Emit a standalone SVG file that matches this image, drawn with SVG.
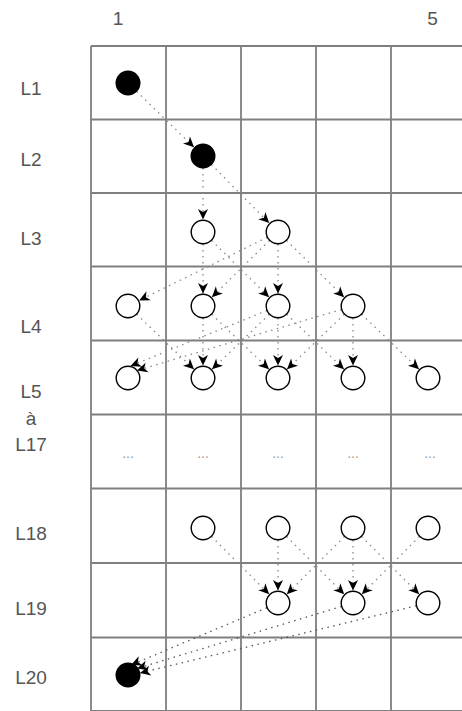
<svg xmlns="http://www.w3.org/2000/svg" width="462" height="711" viewBox="0 0 462 711">
<style>
.g{stroke:#7f7f7f;stroke-width:1.8;fill:none}
.t{font-family:"Liberation Sans",Arial,sans-serif;font-size:19px;fill:#555;text-anchor:middle}
.d{font-family:"Liberation Sans",Arial,sans-serif;font-size:14px;fill:#999;text-anchor:middle}
.e{stroke:#888;stroke-width:1.3;stroke-dasharray:1.5 4.5;fill:none;marker-end:url(#a)}
.k{stroke:#555}
.o{fill:#fff;stroke:#000;stroke-width:1.4}
.f{fill:#000;stroke:#000;stroke-width:1.4}
</style>
<defs>
<marker id="a" markerUnits="userSpaceOnUse" viewBox="-11 -6 12 12" refX="0" refY="0" markerWidth="12" markerHeight="12" orient="auto">
<path d="M0,0 L-10.5,-5 L-7.5,0 L-10.5,5 Z" fill="#000"/>
</marker>
</defs>
<rect width="462" height="711" fill="#fff"/>
<g id="grid">
<path class="g" d="M91,46V711M166,46V711M241,46V711M316,46V711M391,46V711M466,46V711"/>
<path class="g" d="M91,46H466M91,119.5H466M91,193H466M91,266.5H466M91,340.5H466M91,414.5H466M91,488.5H466M91,563H466M91,637.5H466M91,711H466"/>
</g>
<g id="headers">
<text class="t" x="118" y="25">1</text>
<text class="t" x="432.5" y="25">5</text>
</g>
<g id="rowlabels">
<text class="t" x="31" y="95">L1</text>
<text class="t" x="31" y="166">L2</text>
<text class="t" x="31" y="245">L3</text>
<text class="t" x="31" y="333">L4</text>
<text class="t" x="31" y="398">L5</text>
<text class="t" x="31" y="425">à</text>
<text class="t" x="31" y="451">L17</text>
<text class="t" x="31" y="540">L18</text>
<text class="t" x="31" y="615">L19</text>
<text class="t" x="31" y="684">L20</text>
</g>
<g id="ellipsis">
<text class="d" x="128" y="458">...</text>
<text class="d" x="203" y="458">...</text>
<text class="d" x="278" y="458">...</text>
<text class="d" x="353" y="458">...</text>
<text class="d" x="430" y="458">...</text>
</g>
<g id="connectors">
<line class="e" x1="136.6" y1="91.4" x2="194" y2="147.3"/>
<line class="e" x1="203" y1="168" x2="203" y2="219.5"/>
<line class="e" x1="211.4" y1="164.5" x2="269.2" y2="223.1"/>
<line class="e" x1="203" y1="244" x2="203" y2="293.5"/>
<line class="e" x1="211.5" y1="240.4" x2="269.1" y2="297.2"/>
<line class="e" x1="267.2" y1="237.3" x2="139.2" y2="300.5"/>
<line class="e" x1="269.5" y1="240.4" x2="211.9" y2="297.2"/>
<line class="e" x1="278" y1="244" x2="278" y2="293.5"/>
<line class="e" x1="286.5" y1="240.4" x2="344.1" y2="297.2"/>
<line class="e" x1="136.7" y1="314.3" x2="194" y2="369.3"/>
<line class="e" x1="203" y1="318" x2="203" y2="365.5"/>
<line class="e" x1="211.7" y1="314.3" x2="269" y2="369.3"/>
<line class="e" x1="266.9" y1="310.5" x2="130.5" y2="366"/>
<line class="e" x1="269.3" y1="314.3" x2="212" y2="369.3"/>
<line class="e" x1="278" y1="318" x2="278" y2="365.5"/>
<line class="e" x1="286.7" y1="314.3" x2="344" y2="369.3"/>
<line class="e" x1="341.5" y1="309.4" x2="137" y2="370.5"/>
<line class="e" x1="344.3" y1="314.3" x2="287" y2="369.3"/>
<line class="e" x1="353" y1="318" x2="353" y2="365.5"/>
<line class="e" x1="361.7" y1="314.3" x2="419" y2="369.3"/>
<line class="e" x1="211.5" y1="536.5" x2="269.2" y2="594.2"/>
<line class="e" x1="278" y1="540" x2="278" y2="590.5"/>
<line class="e" x1="286.5" y1="536.5" x2="344.2" y2="594.2"/>
<line class="e" x1="344.5" y1="536.5" x2="286.8" y2="594.2"/>
<line class="e" x1="353" y1="540" x2="353" y2="590.5"/>
<line class="e" x1="361.5" y1="536.5" x2="419.2" y2="594.2"/>
<line class="e" x1="419.5" y1="536.5" x2="361.8" y2="594.2"/>
<line class="e k" x1="266.9" y1="607.7" x2="131" y2="665"/>
<line class="e k" x1="341.5" y1="606.5" x2="137" y2="668.5"/>
<line class="e k" x1="416.3" y1="605.8" x2="140" y2="673"/>
</g>
<g id="n-l1"><circle class="f" cx="128" cy="83" r="11.8"/></g>
<g id="n-l2"><circle class="f" cx="203" cy="156" r="11.8"/></g>
<g id="n-l3-2"><circle class="o" cx="203" cy="232" r="11.8"/></g>
<g id="n-l3-3"><circle class="o" cx="278" cy="232" r="11.8"/></g>
<g id="n-l4-1"><circle class="o" cx="128" cy="306" r="11.8"/></g>
<g id="n-l4-2"><circle class="o" cx="203" cy="306" r="11.8"/></g>
<g id="n-l4-3"><circle class="o" cx="278" cy="306" r="11.8"/></g>
<g id="n-l4-4"><circle class="o" cx="353" cy="306" r="11.8"/></g>
<g id="n-l5-1"><circle class="o" cx="128" cy="378" r="11.8"/></g>
<g id="n-l5-2"><circle class="o" cx="203" cy="378" r="11.8"/></g>
<g id="n-l5-3"><circle class="o" cx="278" cy="378" r="11.8"/></g>
<g id="n-l5-4"><circle class="o" cx="353" cy="378" r="11.8"/></g>
<g id="n-l5-5"><circle class="o" cx="428" cy="378" r="11.8"/></g>
<g id="n-l18-2"><circle class="o" cx="203" cy="528" r="11.8"/></g>
<g id="n-l18-3"><circle class="o" cx="278" cy="528" r="11.8"/></g>
<g id="n-l18-4"><circle class="o" cx="353" cy="528" r="11.8"/></g>
<g id="n-l18-5"><circle class="o" cx="428" cy="528" r="11.8"/></g>
<g id="n-l19-3"><circle class="o" cx="278" cy="603" r="11.8"/></g>
<g id="n-l19-4"><circle class="o" cx="353" cy="603" r="11.8"/></g>
<g id="n-l19-5"><circle class="o" cx="428" cy="603" r="11.8"/></g>
<g id="n-l20"><circle class="f" cx="128" cy="675" r="11.8"/></g>
</svg>
